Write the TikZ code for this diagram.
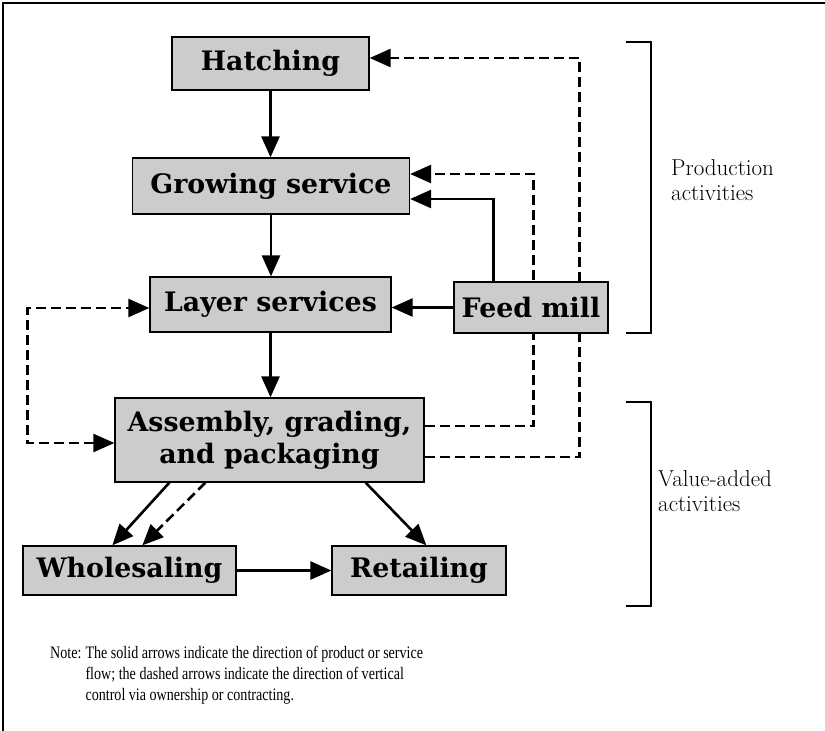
\documentclass[tikz,border=0pt]{standalone}
\usepackage{graphicx}
\usepackage{fontspec}
\newfontfamily\boxfont{DejaVu Serif}
\newfontfamily\notefont{Liberation Serif}
\usetikzlibrary{arrows.meta,calc,backgrounds}
\begin{document}
\begin{tikzpicture}[x=1pt,y=-1pt,
  box/.style={draw=black, line width=1.3pt, fill=black!20, inner sep=0pt,
    font=\boxfont\fontsize{26.8}{32}\selectfont\bfseries, align=center},
  tip/.tip={Triangle[length=21pt,width=18pt]},
  solidarr/.style={line width=2.6pt, -tip},
  dasharr/.style={line width=2.6pt, dash pattern=on 10pt off 5pt, -tip},
  dashboth/.style={line width=2.6pt, dash pattern=on 10pt off 5pt, tip-tip},
  bracket/.style={line width=1.3pt},
  side/.style={font=\fontsize{23}{25}\selectfont, align=left, inner sep=0pt, anchor=base west},
  frame/.style={line width=1.4pt}
]
\useasboundingbox (0,0) rectangle (825,731);
\draw[frame] (3,731) -- (3,3) -- (825,3);

% boxes
\node[box, minimum width=197pt, minimum height=53pt] (hatch) at (270.5,63.5) {Hatching};
\node[box, minimum width=277pt, minimum height=56pt] (grow) at (271,186) {Growing service};
\node[box, minimum width=241pt, minimum height=55pt] (layer) at (270.5,304.5) {Layer services};
\node[box, minimum width=154pt, minimum height=51pt] (feed) at (531,307.5) {Feed mill};
\node[box, minimum width=309pt, minimum height=84pt] (asm) at (269.5,440) {Assembly, grading,\\and packaging};
\node[box, minimum width=213pt, minimum height=49pt] (whole) at (129.5,570.5) {Wholesaling};
\node[box, minimum width=174pt, minimum height=49pt] (retail) at (419,570.5) {Retailing};

% dashed control lines passing behind the feed mill box
\begin{scope}[on background layer]
\draw[dasharr] ($(asm.east)+(0,-14)$) -- ++(109,0) |- ($(grow.east)+(0,-12)$);
\draw[dasharr] ($(asm.east)+(0,17)$) -- ++(155,0) |- ($(hatch.east)+(0,-5.5)$);
\end{scope}

% solid flows
\draw[solidarr] (hatch.south) -- (hatch.south |- grow.north);
\draw[solidarr] (grow.south) -- (grow.south |- layer.north);
\draw[solidarr] (layer.south) -- (layer.south |- asm.north);
\draw[solidarr] (feed.west) -- (feed.west -| layer.east);
\draw[solidarr] ($(feed.north west)+(40,0)$) |- ($(grow.east)+(0,13)$);
\draw[solidarr] (whole.east) -- (retail.west);
\draw[solidarr] ($(asm.south west)+(55,0)$) -- ($(whole.north west)+(90,0)$);
\draw[solidarr] ($(asm.south east)+(-59,0)$) -- ($(retail.north west)+(95,0)$);

% dashed control
\draw[dasharr] ($(asm.south west)+(91,0)$) -- ($(whole.north west)+(120,0)$);
\draw[dashboth] ($(asm.west)+(0,3)$) -- ++(-87,0) |- ($(layer.west)+(0,3.5)$);

% brackets
\draw[bracket] (626,42) -- (651,42) -- (651,333) -- (626,333);
\draw[bracket] (626,402) -- (651,402) -- (651,606) -- (626,606);
\node[side] (prodlab) at (671,200) {Production\\activities};
\node[side] (valuelab) at (658,511) {Value-added\\activities};

% note
\node[anchor=base west, inner sep=0pt] (note) at (50,658)
  {\scalebox{0.805}[1]{\notefont\fontsize{17.5}{21}\selectfont
   \begin{tabular}[t]{@{}l@{\hspace{5pt}}l@{}}
   Note: & The solid arrows indicate the direction of product or service\\
         & flow; the dashed arrows indicate the direction of vertical\\
         & control via ownership or contracting.
   \end{tabular}}};
\end{tikzpicture}
\end{document}
